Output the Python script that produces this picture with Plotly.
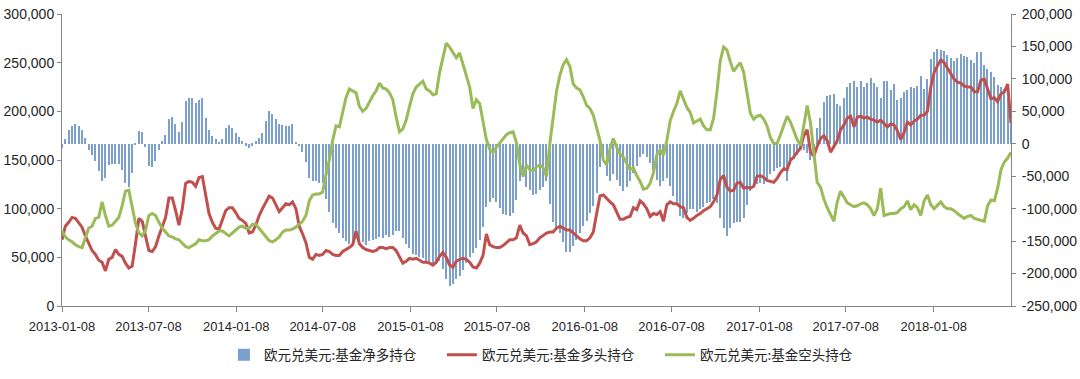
import pandas as pd
import plotly.graph_objects as go

# ---------------- data (thousands of contracts, weekly from 2013-01-08) ----------------
start_date = "2013-01-08"
n_weeks = 285
dates = pd.date_range(start_date, periods=n_weeks, freq="7D")

net_k = [
    -7, 7, 21, 27, 30, 27, 21, 9, -10, -18,
    -27, -42, -58, -53, -33, -31, -31, -31, -40, -60,
    -66, -45, -2, 20, 18, -5, -35, -36, -27, -10,
    4, 14, 38, 41, 30, 18, 33, 66, 70, 71,
    63, 68, 70, 40, 22, 12, 7, 2, 8, 25,
    29, 25, 17, 11, 5, -3, -6, -3, 5, 9,
    17, 35, 50, 46, 38, 30, 29, 28, 27, 31,
    3, -4, -13, -28, -52, -57, -58, -60, -60, -85,
    -105, -122, -130, -137, -145, -150, -155, -150, -138, -152,
    -152, -156, -150, -148, -146, -143, -145, -141, -143, -141,
    -134, -135, -145, -154, -160, -170, -172, -175, -176, -181,
    -182, -183, -185, -180, -193, -208, -219, -216, -209, -204,
    -195, -184, -175, -168, -160, -149, -128, -97, -89, -84,
    -90, -99, -108, -110, -112, -107, -86, -57, -50, -66,
    -71, -79, -78, -71, -66, -57, -93, -121, -132, -137,
    -152, -167, -167, -158, -148, -137, -127, -119, -107, -96,
    -76, -36, -26, -50, -57, -46, -56, -65, -73, -66,
    -58, -45, -35, -21, -15, -20, -30, -40, -56, -65,
    -58, -52, -65, -80, -94, -112, -115, -106, -100, -100,
    -105, -100, -97, -92, -90, -85, -92, -115, -130, -142,
    -130, -122, -120, -120, -115, -95, -72, -66, -62, -60,
    -62, -58, -47, -42, -38, -36, -42, -57, -32, -24,
    -18, -9, -10, -14, -25, -18, 25, 40, 65, 74,
    75, 76, 62, 58, 70, 88, 93, 96, 88, 96,
    88, 93, 101, 93, 88, 70, 96, 96, 83, 92,
    68, 70, 80, 83, 87, 86, 89, 105, 85, 100,
    131, 142, 146, 145, 143, 137, 132, 127, 132, 138,
    136, 133, 129, 124, 142, 141, 121, 115, 111, 103,
    90, 87, 84, 70, 32,
]

long_k = [
    68, 82, 86, 91, 90, 86, 81, 72, 65, 57,
    53, 47, 45, 36, 48, 50, 58, 53, 51, 44,
    39, 41, 64, 90, 87, 71, 57, 56, 61, 72,
    81, 91, 111, 111, 98, 83, 100, 126, 128, 127,
    123, 132, 133, 112, 95, 86, 80, 79, 89, 98,
    101, 101, 96, 90, 88, 85, 75, 76, 83, 93,
    100, 106, 113, 111, 104, 97, 101, 105, 104, 107,
    100, 82, 74, 65, 50, 48, 53, 52, 53, 57,
    56, 53, 52, 52, 56, 58, 60, 63, 77, 64,
    60, 58, 57, 56, 57, 60, 60, 59, 60, 60,
    57, 50, 44, 46, 49, 48, 49, 47, 45, 45,
    44, 42, 45, 51, 55, 50, 42, 40, 46, 48,
    49, 48, 45, 40, 39, 44, 52, 74, 63, 61,
    60, 60, 62, 65, 68, 68, 70, 83, 75, 72,
    63, 64, 66, 70, 73, 75, 76, 76, 80, 82,
    80, 78, 78, 75, 71, 69, 67, 67, 70, 76,
    95, 113, 114, 110, 107, 104, 96, 89, 89, 91,
    92, 101, 99, 108, 105, 100, 92, 95, 94, 97,
    87, 104, 107, 105, 105, 102, 101, 91, 88, 90,
    93, 95, 98, 100, 102, 107, 114, 130, 134, 122,
    118, 119, 126, 127, 121, 122, 121, 123, 133, 134,
    132, 129, 128, 127, 131, 137, 141, 140, 150, 153,
    158, 162, 175, 181, 158, 154, 164, 172, 175, 170,
    158, 164, 170, 181, 186, 193, 195, 184, 194, 195,
    193, 194, 192, 191, 189, 191, 188, 184, 187, 186,
    180, 171, 178, 189, 186, 190, 192, 196, 196, 200,
    225, 240, 247, 253, 250, 244, 238, 233, 230, 229,
    226, 225, 225, 220, 220, 232, 233, 222, 213, 214,
    210, 218, 220, 228, 188,
]

short_k = [
    77, 71, 68, 66, 63, 61, 60, 71, 80, 82,
    90, 91, 107, 93, 82, 83, 87, 91, 103, 118,
    119, 100, 85, 75, 72, 78, 93, 95, 93, 86,
    80, 76, 72, 71, 69, 68, 64, 61, 60, 62,
    64, 68, 67, 67, 68, 72, 75, 77, 77, 74,
    72, 75, 78, 81, 82, 80, 80, 84, 84, 80,
    76, 71, 67, 66, 68, 71, 76, 78, 78, 79,
    81, 84, 87, 93, 108, 114, 115, 115, 117, 135,
    150, 170, 185, 184, 200, 214, 223, 221, 219, 205,
    200, 203, 210, 216, 221, 229, 224, 223, 219, 212,
    194, 179, 182, 191, 205, 218, 225, 228, 231, 223,
    221, 217, 218, 240, 255, 270, 266, 260, 255, 260,
    249, 236, 225, 203, 212, 208, 189, 171, 161, 158,
    163, 167, 172, 176, 178, 179, 168, 146, 133, 145,
    140, 139, 143, 145, 142, 133, 167, 197, 221, 237,
    248, 253, 246, 228, 224, 222, 215, 206, 203, 196,
    184, 170, 150, 145, 162, 172, 163, 156, 153, 146,
    140, 142, 134, 128, 120, 121, 126, 137, 155, 160,
    155, 170, 190, 200, 208, 221, 213, 204, 199, 188,
    190, 192, 185, 181, 181, 193, 220, 252, 266, 263,
    251, 241, 246, 250, 240, 220, 198, 192, 195, 196,
    192, 185, 173, 167, 167, 176, 186, 195, 189, 179,
    171, 165, 188, 206, 188, 157, 127, 122, 110, 101,
    94, 87, 107, 118, 112, 106, 104, 102, 103, 105,
    106, 104, 100, 93, 100, 121, 93, 94, 95, 95,
    96, 100, 102, 108, 99, 104, 101, 93, 108, 114,
    104, 100, 103, 107, 102, 100, 100, 98, 95, 92,
    90, 92, 93, 90, 89, 88, 87, 103, 109, 108,
    121, 140, 148, 152, 158,
]

series_names = ["欧元兑美元:基金净多持仓", "欧元兑美元:基金多头持仓", "欧元兑美元:基金空头持仓"]

x_tick_vals = ["2013-01-08", "2013-07-08", "2014-01-08", "2014-07-08", "2015-01-08",
               "2015-07-08", "2016-01-08", "2016-07-08", "2017-01-08", "2017-07-08",
               "2018-01-08"]
left_tick_vals = [0, 50000, 100000, 150000, 200000, 250000, 300000]
left_tick_text = ["0", "50,000", "100,000", "150,000", "200,000", "250,000", "300,000"]
right_tick_vals = [-250000, -200000, -150000, -100000, -50000, 0, 50000, 100000, 150000, 200000]
right_tick_text = ["-250,000", "-200,000", "-150,000", "-100,000", "-50,000", "0",
                   "50,000", "100,000", "150,000", "200,000"]

UNIT = 1000
net = [v * UNIT for v in net_k]
long_pos = [v * UNIT for v in long_k]
short_pos = [v * UNIT for v in short_k]

# ---------------- figure ----------------
axis_col = "#868686"
x_font = dict(family="Liberation Sans, Arial, sans-serif", size=13, color="#262626")
y_font = dict(family="Liberation Sans, Arial, sans-serif", size=14, color="#262626")

fig = go.Figure()
fig.add_trace(go.Bar(
    x=dates, y=net, name=series_names[0], yaxis="y",
    marker=dict(color="#4F81BD", line=dict(width=0)),
    width=2.6 * 24 * 3600 * 1000, opacity=0.75,
))
fig.add_trace(go.Scatter(
    x=dates, y=long_pos, name=series_names[1], yaxis="y2", mode="lines",
    line=dict(color="#C0504D", width=3),
))
fig.add_trace(go.Scatter(
    x=dates, y=short_pos, name=series_names[2], yaxis="y2", mode="lines",
    line=dict(color="#9BBB59", width=3),
))

fig.update_layout(
    width=1080, height=379,
    margin=dict(l=62, r=69, t=14, b=73),
    paper_bgcolor="white", plot_bgcolor="white",
    bargap=0,
    xaxis=dict(
        type="date", range=[dates[0], dates[-1]],
        tickvals=x_tick_vals, tickformat="%Y-%m-%d",
        showline=True, linecolor=axis_col, linewidth=1,
        ticks="outside", ticklen=5, tickcolor=axis_col,
        showgrid=False, zeroline=False, tickfont=x_font,
        ticklabelstandoff=3, automargin=False,
    ),
    yaxis=dict(
        side="right", range=[-250000, 200000],
        tickvals=right_tick_vals, ticktext=right_tick_text,
        showline=True, linecolor=axis_col, linewidth=1,
        ticks="outside", ticklen=4, tickcolor=axis_col,
        showgrid=False, zeroline=False, tickfont=y_font,
        ticklabelstandoff=3, automargin=False,
    ),
    yaxis2=dict(
        overlaying="y", side="left", range=[0, 300000],
        tickvals=left_tick_vals, ticktext=left_tick_text,
        showline=True, linecolor=axis_col, linewidth=1,
        ticks="outside", ticklen=4, tickcolor=axis_col,
        showgrid=False, zeroline=False, tickfont=y_font,
        automargin=False,
    ),
    legend=dict(
        orientation="h",
        xref="paper", x=0.5152, xanchor="center",
        yref="container", y=0.0633, yanchor="middle",
        font=dict(family="Noto Sans CJK SC", size=13.5, color="#262626"),
        entrywidth=173, entrywidthmode="pixels",
        bgcolor="rgba(0,0,0,0)",
    ),
    showlegend=True,
)

fig.write_html(
    "out.html",
    config={"displayModeBar": False},
    post_script="document.body.style.margin='0';document.body.style.overflow='hidden';",
)
